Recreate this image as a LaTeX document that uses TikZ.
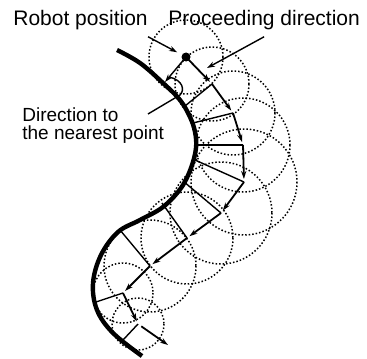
\documentclass[tikz,border=0pt]{standalone}
\usepackage{fontspec}
\setmainfont{Liberation Sans}
\usetikzlibrary{arrows.meta,calc}

\begin{document}
\begin{tikzpicture}[
  x=0.5pt, y=-0.5pt,
  >={Stealth[length=4pt,width=2.6pt]},
  track/.style={line width=2.2pt},
  move/.style={->, line width=0.9pt, shorten >=1.5pt},
  perp/.style={line width=0.7pt},
  reach/.style={line width=0.75pt, dash pattern=on 0.75pt off 1pt},
  lbl/.style={font=\fontsize{10.5}{9}\selectfont, inner sep=0pt},
]
  \useasboundingbox (0,0) rectangle (367,358);

  % ---------------- path to be followed
  \draw[track] plot[smooth, tension=0.6] coordinates {(117,50) (140,63) (163,83) (180,100)
    (190,117) (195,132) (196,148) (191,168) (181,188) (163,207) (140,220) (118,232)
    (101,255) (93,283) (97,310) (113,333) (142,356)};

  % ---------------- robot positions, nearest points and circles
  \foreach \n/\px/\py/\fx/\fy/\r in {0/186/57/165/82/37, 1/212/84/185/106/37,
      2/233/113/193/123/42, 3/243/145/196/145/47, 4/244/182/195/160/53,
      5/221/213/183/181/51, 6/187/238/162/203/46, 7/150/266/120/230/46,
      8/123/293/96/302/30, 9/138/324/123/340/26} {
    \coordinate (P\n) at (\px,\py);
    \coordinate (F\n) at (\fx,\fy);
    \draw[reach] (P\n) circle[radius=\r];
  }
  \foreach \n in {1,...,9} \draw[perp] (P\n) -- (F\n);
  \draw[perp, ->, shorten <=2pt] (P0) -- (F0);

  % ---------------- steps of the robot
  \foreach \a/\b in {0/1, 1/2, 2/3, 3/4, 4/5, 5/6, 6/7, 7/8, 8/9} \draw[move] (P\a) -- (P\b);
  \coordinate (E) at (168,345);
  \draw[move, shorten <=2pt, shorten >=0pt] (P9) -- (E);
  \fill (P0) circle[radius=4.5];

  % ---------------- labels
  \node[lbl, anchor=base west] (robotlbl) at (13,26) {Robot position};
  \node[lbl, anchor=base west] (proclbl) at (168,26) {Proceeding direction};
  \node[lbl, font=\fontsize{9.5}{9}\selectfont, align=left, anchor=north west] (nearlbl) at (22,107)
    {Direction to\\the nearest point};
  \coordinate (procend) at (207,68);
  \coordinate (nearstart) at (148,114);
  \draw[perp, ->, shorten >=5pt] ([yshift=-3pt]robotlbl.south east) -- (P0);
  \draw[perp, ->] ([yshift=-3pt]proclbl.south) -- (procend);
  \draw[perp] (nearstart) -- (180,95) .. controls (185,90) and (183,80) .. (169,77);
\end{tikzpicture}
\end{document}
